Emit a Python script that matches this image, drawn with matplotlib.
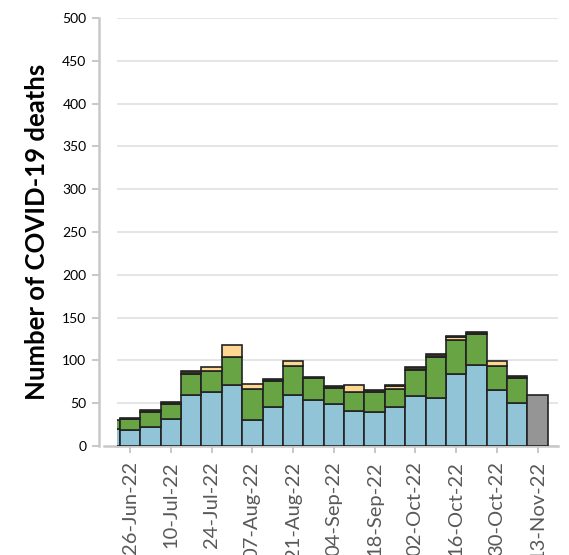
import matplotlib
matplotlib.use("Agg")
import matplotlib.pyplot as plt
from matplotlib.lines import Line2D
import numpy as np

plt.rcParams['font.family'] = ['Lato', 'DejaVu Sans']

weeks = ["19-Jun-22", "26-Jun-22", "03-Jul-22", "10-Jul-22", "17-Jul-22", "24-Jul-22",
         "31-Jul-22", "07-Aug-22", "14-Aug-22", "21-Aug-22", "28-Aug-22", "04-Sep-22",
         "11-Sep-22", "18-Sep-22", "25-Sep-22", "02-Oct-22", "09-Oct-22", "16-Oct-22",
         "23-Oct-22", "30-Oct-22", "06-Nov-22", "13-Nov-22"]
blue = [20, 19, 22, 32, 60, 63, 71, 30, 46, 60, 54, 49, 41, 40, 46, 58, 56, 84, 95, 65, 50, 0]
green = [10, 12, 18, 17, 24, 25, 33, 37, 30, 33, 25, 19, 22, 23, 21, 31, 48, 40, 36, 29, 30, 0]
peach = [0, 0, 0, 0, 0, 4, 14, 5, 0, 6, 0, 0, 8, 0, 3, 0, 0, 3, 0, 5, 0, 0]
dark = [0, 2, 2, 2, 4, 0, 0, 0, 2, 0, 2, 2, 0, 3, 1, 3, 3, 2, 2, 0, 2, 0]
gray = [0] * 21 + [60]
yticks = [0, 50, 100, 150, 200, 250, 300, 350, 400, 450, 500]

series = [(blue, '#92c4d8'), (green, '#69a444'), (peach, '#fdd792'), (dark, '#3a3328'), (gray, '#959595')]

W, H = 569, 555
fig = plt.figure(figsize=(W / 100, H / 100), dpi=100)
ax = fig.add_axes([117 / W, (H - 446) / H, (558 - 117) / W, (446 - 18) / H])

x = np.arange(len(weeks))
bottom = np.zeros(len(weeks))
for vals, col in series:
    v = np.array(vals, dtype=float)
    m = v > 0
    ax.bar(x[m], v[m], bottom=bottom[m], width=1.0, color=col,
           edgecolor='#222222', linewidth=1.2, zorder=3)
    bottom += v

ax.set_xlim(0.36, 22.0)
ax.set_ylim(0, 500)
ax.set_yticks(yticks)
ax.set_yticklabels([str(t) for t in yticks], fontsize=15.5, color='#595959')
ax.yaxis.grid(True, color='#e3e3e3', linewidth=1.3, zorder=0)
ax.set_axisbelow(True)

tick_idx = list(range(1, len(weeks), 2))
ax.set_xticks(tick_idx)
ax.set_xticklabels([weeks[i] for i in tick_idx], rotation=90, fontsize=14.5, color='#595959')

for s in ['top', 'right']:
    ax.spines[s].set_visible(False)
ax.spines['left'].set_position(('outward', 13))
ax.spines['left'].set_color('#c8c8c8')
ax.spines['left'].set_linewidth(1.8)
ax.spines['bottom'].set_color('#c8c8c8')
ax.spines['bottom'].set_linewidth(1.8)
ax.tick_params(axis='y', length=5, width=1.4, color='#c8c8c8', pad=4)
ax.tick_params(axis='x', length=5, width=1.4, color='#c8c8c8', pad=6)

ax.add_line(Line2D([-13 / 441, 0], [0, 0], transform=ax.transAxes, color='#c8c8c8',
                   linewidth=1.8, clip_on=False))

ax.set_ylabel('Number of COVID-19 deaths', fontsize=18.5, fontweight='bold', color='black')
ax.yaxis.set_label_coords(-0.155, 0.5)

fig.savefig('out.png', dpi=100)
